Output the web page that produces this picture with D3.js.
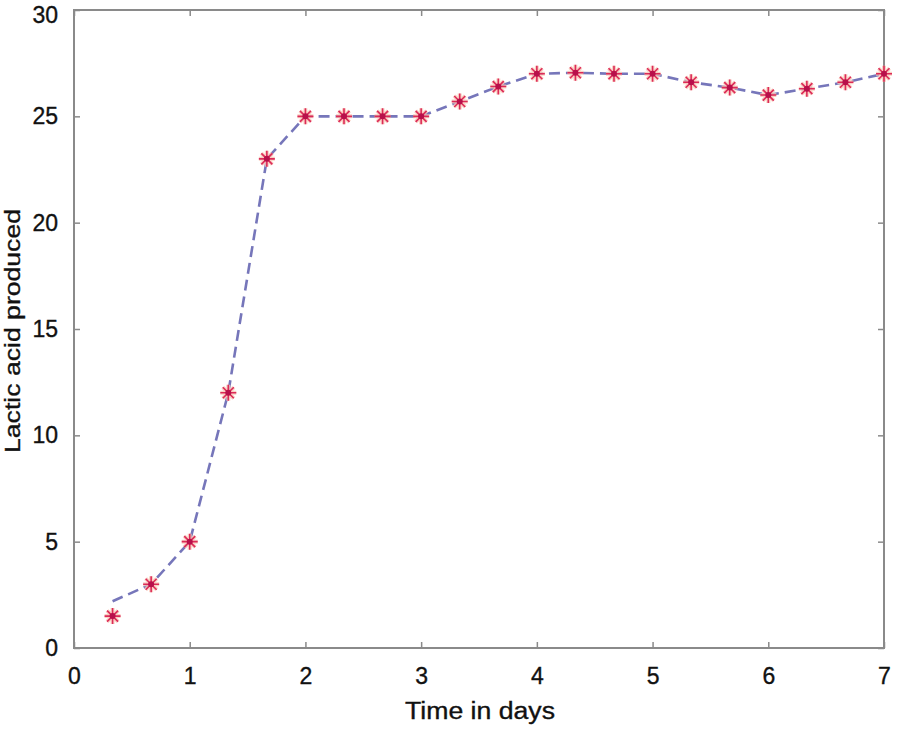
<!DOCTYPE html>
<html><head><meta charset="utf-8">
<script src="https://cdn.jsdelivr.net/npm/d3@7"></script>
<style>body{margin:0;background:#fff}svg{display:block}</style>
</head><body>
<svg id="c" width="898" height="729"></svg>
<script>
const days = [1/3,2/3,1,4/3,5/3,2,7/3,8/3,3,10/3,11/3,4,13/3,14/3,5,16/3,17/3,6,19/3,20/3,7];
const measured = [1.5,3,5,12,23,25,25,25,25,25.7,26.4,27,27.05,27,27,26.6,26.35,26,26.3,26.6,27];
const fitted   = [2.2,3,5,12,23,25,25,25,25,25.7,26.4,27,27.05,27,27,26.6,26.35,26,26.3,26.6,27];
const xTicks = [0,1,2,3,4,5,6,7];
const yTicks = [0,5,10,15,20,25,30];
const xTitle = "Time in days";
const yTitle = "Lactic acid produced";

const svg = d3.select("#c");
const L=74,R=884,T=10,B=648;
const x = d3.scaleLinear().domain([0,7]).range([L,R]);
const y = d3.scaleLinear().domain([0,30]).range([B,T]);
const font = "'Liberation Sans', Arial, sans-serif";
const frameCol = "#8a8a8a";
const txtCol = "#111";

// frame
svg.append("rect").attr("x",L).attr("y",T).attr("width",R-L).attr("height",B-T)
  .attr("fill","none").attr("stroke",frameCol).attr("stroke-width",2);

// axes (inward ticks)
const tl = 6;
const gx = svg.append("g").attr("transform",`translate(0,${B})`)
  .call(d3.axisBottom(x).tickValues(xTicks).tickSizeInner(-tl).tickSizeOuter(0).tickPadding(18).tickFormat(d3.format("d")));
const gxt = svg.append("g").attr("transform",`translate(0,${T})`)
  .call(d3.axisTop(x).tickValues(xTicks).tickSizeInner(-tl).tickSizeOuter(0).tickFormat(""));
const gy = svg.append("g").attr("transform",`translate(${L},0)`)
  .call(d3.axisLeft(y).tickValues(yTicks).tickSizeInner(-tl).tickSizeOuter(0).tickPadding(16).tickFormat(d3.format("d")));
const gyr = svg.append("g").attr("transform",`translate(${R},0)`)
  .call(d3.axisRight(y).tickValues(yTicks).tickSizeInner(-tl).tickSizeOuter(0).tickFormat(""));
[gx,gxt,gy,gyr].forEach(g=>{
  g.select(".domain").remove();
  g.selectAll(".tick line").attr("stroke",frameCol).attr("stroke-width",1.5);
  g.selectAll("text").attr("font-family",font).attr("font-size",23).attr("fill",txtCol)
    .attr("stroke",txtCol).attr("stroke-width",0.35);
});
gx.selectAll(".tick text").attr("y",36).attr("dy",0);
// keep the top label inside the picture
gy.selectAll(".tick text").filter(d=>d===30).attr("dy","0.55em");

// dashed fitted line
const line = d3.line().x((d,i)=>x(days[i])).y(d=>y(d));
svg.append("path").datum(fitted).attr("d",line).attr("fill","none")
  .attr("stroke","#7676ba").attr("stroke-width",2.6).attr("stroke-dasharray","11,6");

// markers (asterisks)
const s=8, s2=5.5;
const star = `M${-s},0L${s},0M0,${-s}L0,${s}M${-s2},${-s2}L${s2},${s2}M${-s2},${s2}L${s2},${-s2}`;
const mk = svg.append("g").selectAll("g").data(measured).join("g")
  .attr("transform",(d,i)=>`translate(${x(days[i])},${y(d)})`);
mk.append("path").attr("d",star).attr("stroke","#f9c4b4").attr("stroke-width",4).attr("fill","none").attr("opacity",0.8);
mk.append("path").attr("d",star).attr("stroke","#dc2a58").attr("stroke-width",1.6).attr("fill","none");
mk.append("circle").attr("r",3).attr("fill","#b8104a");

// titles
svg.append("text").attr("x",480).attr("y",719).attr("text-anchor","middle")
  .attr("font-family",font).attr("font-size",23).attr("fill",txtCol).attr("stroke",txtCol).attr("stroke-width",0.35)
  .attr("textLength",150).attr("lengthAdjust","spacingAndGlyphs").text(xTitle);
svg.append("text").attr("transform",`translate(20,331) rotate(-90)`).attr("text-anchor","middle")
  .attr("font-family",font).attr("font-size",22).attr("fill",txtCol).attr("stroke",txtCol).attr("stroke-width",0.35)
  .attr("textLength",244).attr("lengthAdjust","spacingAndGlyphs").text(yTitle);
</script>
</body></html>
